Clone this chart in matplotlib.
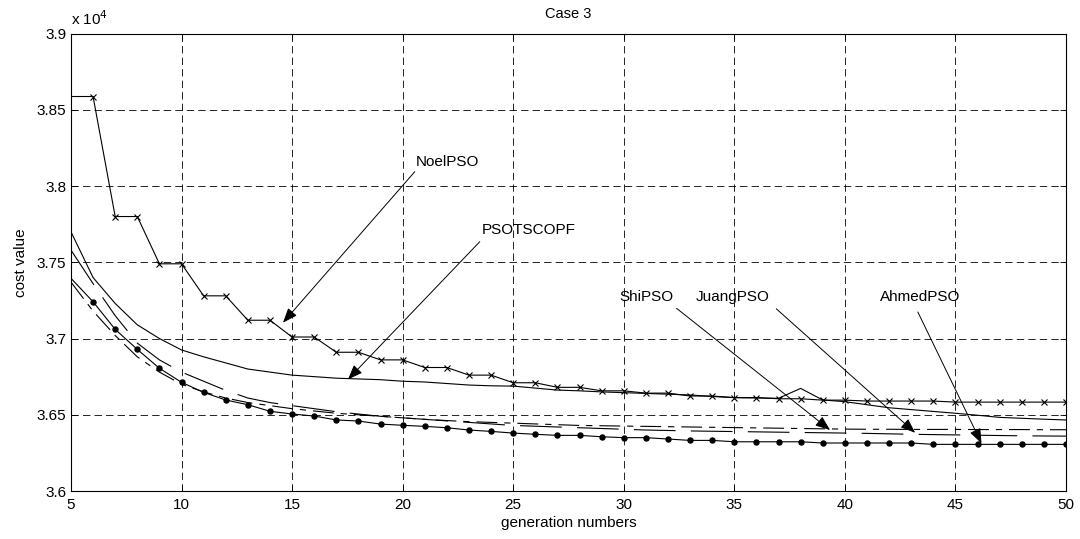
import matplotlib
matplotlib.use("Agg")
import matplotlib.pyplot as plt
import numpy as np

plt.rcParams['font.family'] = ['Liberation Sans', 'DejaVu Sans']
plt.rcParams['lines.scale_dashes'] = False

# generation numbers shown on the axis
gen = np.arange(5, 51)

# cost values (x 10^4)
noel = [3.8587, 3.8587, 3.780, 3.780, 3.749, 3.749, 3.728, 3.728, 3.712, 3.712,
        3.701, 3.701, 3.691, 3.691, 3.686, 3.686, 3.681, 3.681, 3.676, 3.676,
        3.671, 3.671, 3.668, 3.668, 3.6657, 3.6657, 3.6642, 3.6642, 3.6623, 3.6623,
        3.6613, 3.6613, 3.6605, 3.6605, 3.6596, 3.6596, 3.659, 3.659, 3.659, 3.659,
        3.6583, 3.6583, 3.6583, 3.6583, 3.6583, 3.6583]
psotscopf = [3.770, 3.740, 3.723, 3.709, 3.700, 3.6925, 3.688, 3.684, 3.680, 3.678,
             3.676, 3.675, 3.674, 3.6735, 3.673, 3.672, 3.6715, 3.6705, 3.6695, 3.669,
             3.6688, 3.6675, 3.6662, 3.6657, 3.665, 3.6645, 3.664, 3.6635, 3.663, 3.662,
             3.6612, 3.661, 3.6608, 3.6673, 3.6597, 3.6586, 3.6566, 3.6546, 3.6534, 3.6522,
             3.651, 3.6497, 3.6483, 3.6477, 3.6471, 3.6466]
shi = [3.737, 3.718, 3.702, 3.688, 3.678, 3.670, 3.665, 3.661, 3.658, 3.656,
       3.654, 3.6525, 3.651, 3.650, 3.649, 3.648, 3.647, 3.6462, 3.6455, 3.645,
       3.6445, 3.644, 3.6435, 3.643, 3.6428, 3.6426, 3.6424, 3.6422, 3.642, 3.6418,
       3.6416, 3.6414, 3.6412, 3.641, 3.6408, 3.6406, 3.6405, 3.6405, 3.6404, 3.6404,
       3.6404, 3.6403, 3.6403, 3.6403, 3.6402, 3.6402]
juang = [3.758, 3.736, 3.715, 3.697, 3.686, 3.678, 3.672, 3.666, 3.661, 3.658,
         3.656, 3.654, 3.652, 3.6505, 3.649, 3.648, 3.647, 3.646, 3.645, 3.644,
         3.643, 3.6425, 3.642, 3.6415, 3.641, 3.6405, 3.640, 3.6397, 3.6394, 3.6392,
         3.639, 3.6388, 3.6386, 3.6384, 3.6382, 3.638, 3.6378, 3.6375, 3.6372, 3.637,
         3.6368, 3.6366, 3.6364, 3.6362, 3.6361, 3.636]
ahmed = [3.7395, 3.7241, 3.706, 3.6929, 3.6805, 3.6713, 3.6647, 3.6597, 3.6566, 3.6523,
         3.6505, 3.6492, 3.6466, 3.6459, 3.6439, 3.6431, 3.6424, 3.6415, 3.640, 3.6391,
         3.638, 3.6372, 3.6365, 3.6365, 3.6356, 3.635, 3.635, 3.6341, 3.6332, 3.6332,
         3.6323, 3.6323, 3.6323, 3.6323, 3.6315, 3.6315, 3.6315, 3.6315, 3.6315, 3.6306,
         3.6306, 3.6306, 3.6306, 3.6306, 3.6306, 3.6306]

# label, text position, arrow start, arrow tip, text alignment
labels = ['NoelPSO', 'PSOTSCOPF', 'ShiPSO', 'JuangPSO', 'AhmedPSO']
text_xy = [(20.6, 3.816), (23.6, 3.771), (32.25, 3.7274), (36.6, 3.7274), (43.4, 3.7274)]
tail_xy = [(20.55, 3.8094), (23.49, 3.7635), (32.39, 3.7198), (36.9, 3.7195), (43.3, 3.7174)]
head_xy = [(14.59, 3.7104), (17.53, 3.6732), (39.33, 3.640), (43.18, 3.6382), (46.18, 3.6313)]
text_ha = ['left', 'left', 'right', 'right', 'center']

fig = plt.figure(figsize=(10.8, 5.39), dpi=100)
ax = fig.add_axes([0.0657, 0.089, 0.9213, 0.8488])

lw = 0.8
ax.plot(gen, noel, color='k', lw=lw, marker='x', ms=4.5, mew=0.8, markevery=slice(1, None))
ax.plot(gen, psotscopf, color='k', lw=lw)
ax.plot(gen, shi, color='k', lw=lw, linestyle=(0, (15, 5, 4.5, 5)))
ax.plot(gen, juang, color='k', lw=lw, linestyle=(0, (30, 11)))
ax.plot(gen, ahmed, color='k', lw=lw, marker='o', ms=3.6, markevery=slice(1, None))

for lab, txy, tl, hd, ha in zip(labels, text_xy, tail_xy, head_xy, text_ha):
    ax.text(txy[0], txy[1], lab, ha=ha, va='center', fontsize=11)
    ax.annotate('', xy=hd, xytext=tl,
                arrowprops=dict(arrowstyle='-|>,head_length=0.9,head_width=0.35',
                                color='k', lw=0.7, shrinkA=0, shrinkB=0))

ax.set_xlim(5, 50)
ax.set_ylim(3.6, 3.9)
ax.set_xticks(np.arange(5, 51, 5))
ax.set_yticks([3.6, 3.65, 3.7, 3.75, 3.8, 3.85, 3.9])
ax.set_yticklabels(['3.6', '3.65', '3.7', '3.75', '3.8', '3.85', '3.9'])
ax.grid(True, color='k', linestyle=(0, (5.3, 3.0)), lw=0.6)
ax.tick_params(direction='in', top=True, right=True, labelsize=11, length=4, width=0.6)
ax.tick_params(axis='x', pad=5)
for s in ax.spines.values():
    s.set_linewidth(0.8)

ax.set_title('Case 3', fontsize=10.5, pad=11)
ax.set_xlabel('generation numbers', fontsize=11, labelpad=3)
ax.set_ylabel('cost value', fontsize=11, labelpad=6)
ax.text(0.0, 1.012, r'x 10$^{4}$', transform=ax.transAxes, fontsize=11,
        ha='left', va='bottom')

fig.savefig('out.png', dpi=100)
